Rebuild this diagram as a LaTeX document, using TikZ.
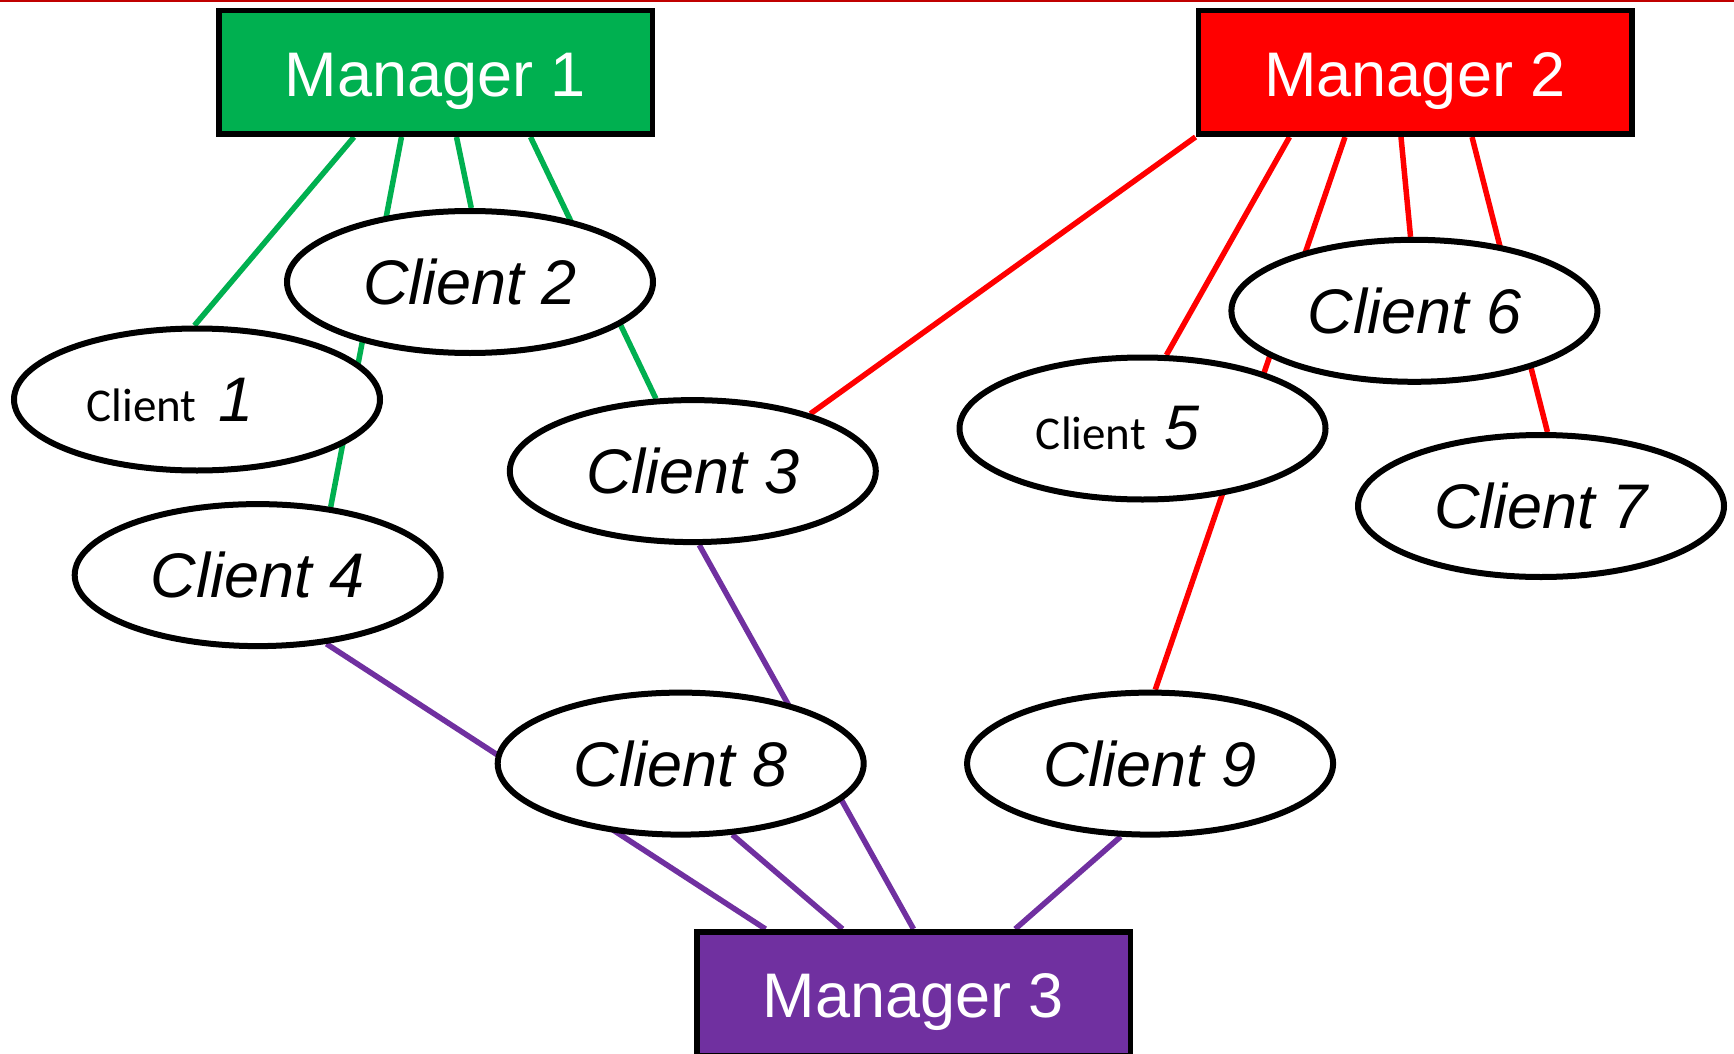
\documentclass[tikz,border=0pt]{standalone}
\usepackage{fontspec}
\setmainfont{Liberation Sans}
\newfontfamily\carl{Carlito}
\usetikzlibrary{backgrounds,shapes.geometric}
\definecolor{mgreen}{HTML}{00B050}
\definecolor{mred}{HTML}{FF0000}
\definecolor{mpurple}{HTML}{7030A0}
\definecolor{topred}{HTML}{C00000}
\begin{document}
\begin{tikzpicture}[x=1pt,y=-1pt,
  mgr/.style={draw=black, line width=5.5pt, minimum width=433.5pt, minimum height=123.5pt,
    inner sep=0pt, text=white, font=\fontsize{63}{70}\selectfont, text height=48pt, text depth=0pt},
  client/.style={ellipse, draw=black, fill=white, line width=6pt, minimum width=366pt,
    minimum height=142pt, inner sep=0pt, font=\fontsize{63}{70}\selectfont\itshape},
  gline/.style={mgreen, line width=5.5pt},
  rline/.style={mred, line width=5.5pt},
  pline/.style={mpurple, line width=5.5pt}]
\useasboundingbox (0,0) rectangle (1734,1054);
\clip (0,0) rectangle (1734,1054);
% managers
\node[mgr, fill=mgreen] (m1) at (435.5,72.5) {Manager 1};
\node[mgr, fill=mred] (m2) at (1415,72.5) {Manager 2};
\node[mgr, fill=mpurple] (m3) at (913.5,993.5) {Manager 3};
% clients
\node[client] (c1) at (197,399.5) {{\carl\upshape\fontsize{47}{50}\selectfont Client}\hspace{22pt}1\hspace*{54pt}};
\node[client] (c2) at (470,282) {Client 2};
\node[client] (c3) at (692.8,471.1) {Client 3};
\node[client] (c4) at (257.7,575.1) {Client 4};
\node[client] (c5) at (1142.5,428.5) {{\carl\upshape\fontsize{47}{50}\selectfont Client}\hspace{18pt}5\hspace*{50pt}};
\node[client] (c6) at (1414.4,310.8) {Client 6};
\node[client] (c7) at (1541,506) {Client 7};
\node[client] (c8) at (680.7,763.6) {Client 8};
\node[client] (c9) at (1150.1,763.6) {Client 9};
\begin{scope}[on background layer]
\fill[white] (0,0) rectangle (1734,1054);
\fill[topred] (0,0) rectangle (1734,2.5);
% manager 1
\draw[gline] ([xshift=-81.5pt]m1.south) -- (c1.92);
\draw[gline] ([xshift=-34pt]m1.south) -- (c4.43);
\draw[gline] ([xshift=21pt]m1.south) -- (c2.89);
\draw[gline] ([xshift=95pt]m1.south) -- (c3.117);
% manager 2
\draw[rline] (m2.south west) -- (c3.26);
\draw[rline] ([xshift=-125.5pt]m2.south) -- (c5.72);
\draw[rline] ([xshift=-70pt]m2.south) -- (c9.86);
\draw[rline] ([xshift=-14pt]m2.south) -- (c6.93);
\draw[rline] ([xshift=57pt]m2.south) -- (c7.85);
% manager 3
\draw[pline] ([xshift=-148pt]m3.north) -- (c4.-45);
\draw[pline] ([xshift=-71pt]m3.north) -- (c8.-54);
\draw[pline] (m3.north) -- (c3.-85);
\draw[pline] ([xshift=101.7pt]m3.north) -- (c9.-112);
\end{scope}
\end{tikzpicture}
\end{document}
